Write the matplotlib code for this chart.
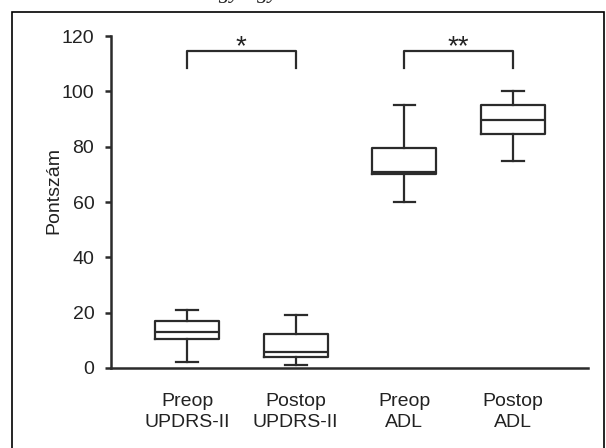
import matplotlib.pyplot as plt
from matplotlib.patches import Rectangle

plt.rcParams['font.family'] = ['Liberation Sans', 'DejaVu Sans']

# box statistics
groups = ['Preop\nUPDRS-II', 'Postop\nUPDRS-II', 'Preop\nADL', 'Postop\nADL']
whisker_low = [2.2, 1.1, 60, 75]
q1 = [10.4, 3.9, 70, 84.5]
median = [13.1, 5.9, 71, 89.5]
q3 = [17, 12.2, 79.5, 95]
whisker_high = [21, 19.3, 95, 100]

# significance brackets: (left group, right group, label)
brackets = [(1, 2, '*'), (3, 4, '**')]
bracket_top = 114.5
bracket_leg = 108.5

LINE = '#2b2b2b'

fig = plt.figure(figsize=(6.06, 4.48), dpi=100)
ax = fig.add_axes([111 / 606, 1 - 368 / 448, (588 - 111) / 606, (368 - 36) / 448])

stats = []
for i, g in enumerate(groups):
    stats.append({'label': g, 'whislo': whisker_low[i], 'q1': q1[i], 'med': median[i],
                  'q3': q3[i], 'whishi': whisker_high[i], 'fliers': []})

lw = 1.6
ax.bxp(stats, positions=[1, 2, 3, 4], widths=0.59, capwidths=0.2, showfliers=False,
       boxprops=dict(color=LINE, linewidth=lw),
       medianprops=dict(color=LINE, linewidth=lw),
       whiskerprops=dict(color=LINE, linewidth=lw),
       capprops=dict(color=LINE, linewidth=lw))

for a, b, lab in brackets:
    ax.plot([a, a, b, b], [bracket_leg, bracket_top, bracket_top, bracket_leg],
            color=LINE, linewidth=lw, clip_on=False)
    ax.text((a + b) / 2, 113.5, lab, ha='center', va='baseline',
            fontsize=20, color='#222222', clip_on=False)

ax.set_xlim(0.30, 4.69)
ax.set_ylim(0, 120)
ax.set_yticks(range(0, 121, 20))
ax.spines['top'].set_visible(False)
ax.spines['right'].set_visible(False)
for s in ['left', 'bottom']:
    ax.spines[s].set_linewidth(1.8)
    ax.spines[s].set_color(LINE)
ax.tick_params(axis='y', length=4, width=1.8, color=LINE, pad=8, labelsize=14, labelcolor='#222222')
ax.tick_params(axis='x', length=0, pad=18, labelsize=14, labelcolor='#222222')
for t in ax.get_xticklabels():
    t.set_linespacing(1.3)
ax.set_ylabel('Pontszám', fontsize=14, color='#222222')
ax.yaxis.set_label_coords(-0.102, 0.535)

# frame around the figure and the clipped caption above it
fig.patches.append(Rectangle((12 / 606, -0.05), (604 - 12) / 606, 1.05 - 12 / 448,
                             transform=fig.transFigure, fill=False,
                             edgecolor='black', linewidth=1.2))
fig.text(244 / 606, 1 + 2 / 448, 'egy-egy', ha='center', va='baseline',
         fontsize=16, style='italic', family=['Liberation Serif'], color='#222222')

fig.savefig('out.png', dpi=100)
